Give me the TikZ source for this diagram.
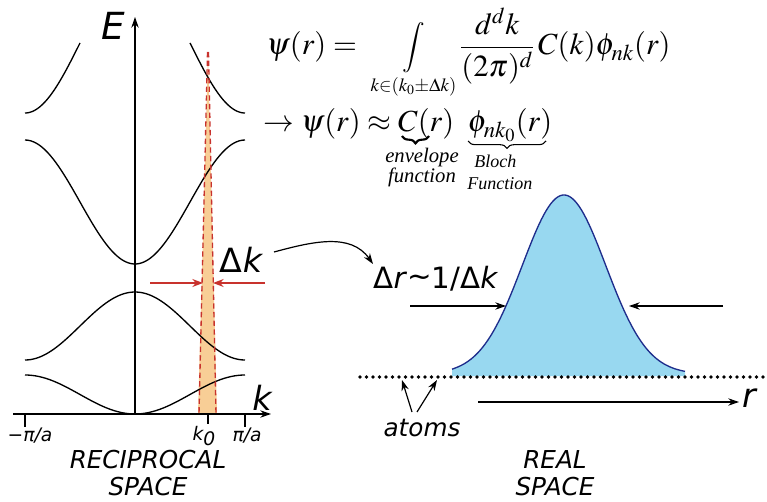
\documentclass[tikz,border=0pt]{standalone}
\usepackage{amsmath}
\usepackage{mathptmx}
\usepackage[no-math]{fontspec}
\newfontfamily\labelfont{DejaVu Sans}
\newfontfamily\notefont{Liberation Serif}
\usepackage{tikz}
\usetikzlibrary{arrows.meta, positioning, decorations.pathreplacing}

\definecolor{wedgeorange}{RGB}{248,206,150}
\definecolor{markred}{RGB}{200,50,45}
\definecolor{waveblue}{RGB}{152,216,240}
\definecolor{waveedge}{RGB}{30,45,140}

\begin{document}
\begin{tikzpicture}[
    x=0.75pt, y=-0.75pt,
    band/.style={
        line width=1pt,
        black
    },
    axis/.style={
        -{Stealth[length=8pt,width=5.5pt]},
        line width=0.9pt
    },
    tick/.style={
        line width=0.8pt
    },
    redarrow/.style={
        -{Stealth[length=8pt,width=6pt]},
        line width=1pt,
        draw=markred
    },
    blackarrow/.style={
        -{Stealth[length=8pt,width=5.5pt]},
        line width=0.9pt
    },
    reddash/.style={
        dash pattern=on 4pt off 2.5pt,
        line width=1pt,
        draw=markred
    },
    underbrace/.style={
        decorate,
        decoration={brace, mirror, amplitude=5.5pt}
    },
    biglabel/.style={
        inner sep=0pt,
        font=\labelfont\itshape\fontsize{25}{30}\selectfont
    },
    ticklabel/.style={
        inner sep=0pt,
        font=\labelfont\itshape\fontsize{14}{16}\selectfont
    },
    spacelabel/.style={
        inner sep=0pt,
        align=center,
        font=\labelfont\itshape\fontsize{18.5}{20.5}\selectfont
    },
    eqline/.style={
        inner sep=0pt,
        font=\fontsize{23}{27}\selectfont
    },
    envnote/.style={
        inner sep=0pt,
        anchor=base,
        font=\notefont\itshape\fontsize{15.5}{17}\selectfont
    },
    blochnote/.style={
        inner sep=0pt,
        anchor=base west,
        font=\notefont\itshape\fontsize{13.5}{15}\selectfont
    }
]
\useasboundingbox (0,0) rectangle (767,502);

% Reciprocal space: wave packet window around k0
\fill[wedgeorange] (208,52) -- (198,414) -- (217,414) -- cycle;

% Bands
\draw[band] plot[domain=25:245, samples=80] (\x, {414 - 19.5*(1-cos(1.636364*(\x-135)))});
\draw[band] plot[domain=25:245, samples=80] (\x, {292 + 34*(1-cos(1.636364*(\x-135)))});
\draw[band] plot[domain=25:245, samples=80] (\x, {264 - 62*(1-cos(1.636364*(\x-135)))});
\draw[band] plot[domain=25:80, samples=40] (\x, {113 - 70*(1+cos(1.636364*(\x-135)))});
\draw[band] plot[domain=190:245, samples=40] (\x, {113 - 70*(1+cos(1.636364*(\x-135)))});

% Dashed edges of the window
\draw[reddash] (207.5,52) -- (199,414);
\draw[reddash] (208.5,52) -- (216,414);

% Axes
\coordinate (origin) at (135,414);
\coordinate (kend) at (271,414);
\coordinate (kstart) at (13,414);
\coordinate (eend) at (135,17);
\draw[axis] (origin) -- (eend);
\draw[axis] (kstart) -- (kend);
\node[biglabel, font=\labelfont\itshape\fontsize{28}{30}\selectfont] (elabel) at (113,26) {E};
\node[biglabel] (klabel) at (262,398) {k};

% Ticks
\draw[tick] (25,414) -- (25,427);
\draw[tick] (208,414) -- (208,424);
\draw[tick] (245,414) -- (245,427);
\node[ticklabel] (minuspi) at (30,436) {−π/a};
\node[ticklabel] (kzero) at (204,436) {k\raisebox{-4pt}{0}};
\node[ticklabel] (pluspi) at (247,436) {π/a};
\node[spacelabel] (recip) at (148,473) {RECIPROCAL\\SPACE};

% Delta k markers
\coordinate (dkl) at (150,283);
\coordinate (dkr) at (265,283);
\coordinate (dkla) at (203,283);
\coordinate (dkra) at (213,283);
\draw[redarrow] (dkl) -- (dkla);
\draw[redarrow] (dkr) -- (dkra);
\node[biglabel] (dk) at (241,260) {{\upshape Δ}k};

% Equations
\node[eqline, anchor=base west] (eqa) at (266,55)
    {$\displaystyle \psi(r) = \;\mathop{\vcenter{\hbox{\scalebox{0.82}{$\displaystyle\int$}}}}\limits_{\mbox{\fontsize{14}{16}\selectfont$k{\in}(k_0{\pm}\Delta k)$}}
     \frac{d^d k}{(2\pi)^d}\, C(k)\phi_{nk}(r)$};
\node[eqline, anchor=base west] (eqb) at (263,132)
    {$\displaystyle \rightarrow\psi(r)\approx C(r)\;\; \phi_{nk_0}(r)$};

% Braces under the two factors
\coordinate (envl) at (402,136);
\coordinate (envr) at (429,136);
\coordinate (blochl) at (468,141);
\coordinate (blochr) at (546,141);
\draw[underbrace, line width=1.6pt] (envl) -- (envr);
\draw[underbrace, line width=0.8pt] (blochl) -- (blochr);
\node[envnote] (envtop) at (422,163) {envelope};
\node[envnote] (envbot) at (422,183) {function};
\node[blochnote] (blochtop) at (474,168) {Bloch};
\node[blochnote] (blochbot) at (467,190) {Function};

% Real space: envelope over the atom chain
\fill[waveblue] plot[domain=452:685, samples=100] (\x, {374 - 179*exp(-((\x-564)/59)^2)}) -- (685,376) -- (452,376) -- cycle;
\draw[waveedge, line width=1pt] plot[domain=452:685, samples=100] (\x, {374 - 179*exp(-((\x-564)/59)^2)});

% Atom chain
\foreach \i in {0,...,62}
    \fill (360+\i*6.5,377) circle (1.9);

% Width of the packet
\node[biglabel, font=\labelfont\fontsize{22}{26}\selectfont] (dr) at (436,279) {Δ\textit{r}\raisebox{2pt}{\textasciitilde}1/Δ\textit{k}};
\coordinate (drl) at (410,306);
\coordinate (drla) at (506,306);
\coordinate (drr) at (723,306);
\coordinate (drra) at (629,306);
\draw[blackarrow] (drl) -- (drla);
\draw[blackarrow] (drr) -- (drra);

% From k-space width to real-space width
\coordinate (dkout) at (274,252);
\coordinate (drin) at (373,264);
\draw[blackarrow] (dkout) to[out=15, in=125] (drin);

% Atoms
\node[spacelabel] (atoms) at (422,428) {atoms};
\coordinate (atomsa) at (412,412);
\coordinate (atomsb) at (417,412);
\coordinate (atomone) at (402,380);
\coordinate (atomtwo) at (437,380);
\draw[blackarrow] (atomsa) -- (atomone);
\draw[blackarrow] (atomsb) -- (atomtwo);

% r axis
\coordinate (rstart) at (478,402);
\coordinate (rend) at (739,402);
\draw[blackarrow] (rstart) -- (rend);
\node[biglabel] (rlabel) at (749,398) {r};

\node[spacelabel] (real) at (555,473) {REAL\\SPACE};

\end{tikzpicture}
\end{document}
